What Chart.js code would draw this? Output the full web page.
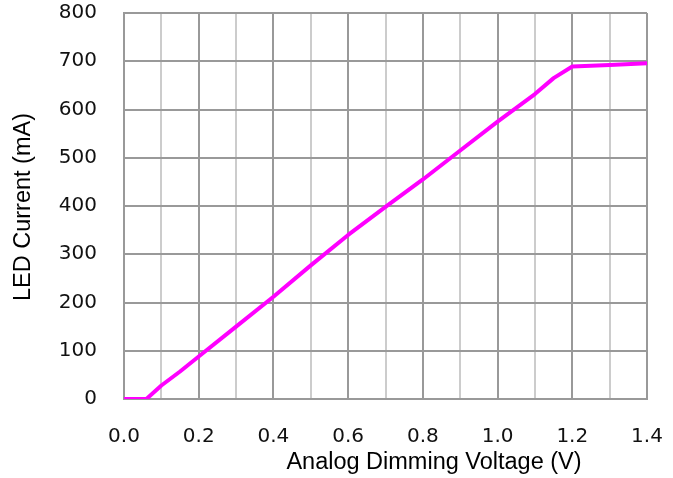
<!DOCTYPE html>
<html>
<head>
<meta charset="utf-8">
<script src="https://cdn.jsdelivr.net/npm/chart.js@4/dist/chart.umd.min.js"></script>
<style>
  body { margin: 0; background: #fff; }
  #wrap { width: 673px; height: 478px; }
</style>
</head>
<body>
<div id="wrap"><canvas id="ledChart" width="673" height="478"></canvas></div>
<script>
// valores
const voltage = [0, 0.06, 0.1, 0.15, 0.2, 0.3, 0.4, 0.5, 0.6, 0.7, 0.8, 0.9, 1.0, 1.1, 1.15, 1.2, 1.3, 1.4];
const current = [0, 0, 28, 57, 88, 150, 212, 277, 340, 398, 455, 515, 575, 632, 665, 689, 692, 696];

const xTicks = [0, 0.1, 0.2, 0.3, 0.4, 0.5, 0.6, 0.7, 0.8, 0.9, 1.0, 1.1, 1.2, 1.3, 1.4];
const xTickLabels = ['0.0', '', '0.2', '', '0.4', '', '0.6', '', '0.8', '', '1.0', '', '1.2', '', '1.4'];
const yTicks = [0, 100, 200, 300, 400, 500, 600, 700, 800];

const xTitle = 'Analog Dimming Voltage (V)';
const yTitle = 'LED Current (mA)';

const points = voltage.map((v, i) => ({ x: v, y: current[i] }));

// titulos de ejes dibujados a mano (el del eje x va desplazado a la derecha)
const axisTitles = {
    id: 'axisTitles',
    afterDraw(chart) {
        const c = chart.ctx;
        c.save();
        c.fillStyle = '#000';
        c.font = '23.5px "Liberation Sans", Arial, sans-serif';
        c.textAlign = 'center';
        c.textBaseline = 'middle';
        c.fillText(xTitle, 434, 463);
        c.translate(24, 207);
        c.rotate(-Math.PI / 2);
        c.fillText(yTitle, 0, 0);
        c.restore();
    }
};

// quitar el relleno automatico de las escalas para fijar el area
function noPadding(scale) {
    scale.paddingTop = 0;
    scale.paddingBottom = 0;
    scale.paddingLeft = 0;
    scale.paddingRight = 0;
}

const ctx = document.querySelector('#ledChart');
new Chart(ctx, {
    type: 'line',
    data: {
        datasets: [{
            data: points,
            borderColor: '#ff00ff',
            borderWidth: 4,
            pointRadius: 0,
            tension: 0,
            borderJoinStyle: 'round',
            borderCapStyle: 'round'
        }]
    },
    options: {
        responsive: false,
        animation: false,
        layout: { padding: { left: 0, top: 13, right: 26, bottom: 0 } },
        plugins: {
            legend: { display: false },
            tooltip: { enabled: false }
        },
        scales: {
            x: {
                type: 'linear',
                min: 0,
                max: 1.4,
                afterBuildTicks: (scale) => {
                    scale.ticks = xTicks.map(v => ({ value: v }));
                },
                afterFit: (scale) => { scale.height = 79; noPadding(scale); },
                ticks: {
                    autoSkip: false,
                    maxRotation: 0,
                    padding: 26,
                    color: '#111',
                    font: { family: '"DejaVu Sans", sans-serif', size: 20 },
                    callback: (value, index) => xTickLabels[index]
                },
                grid: {
                    drawTicks: false,
                    lineWidth: 2,
                    color: (c) => (c.index % 2 === 0 ? '#999999' : '#cccccc')
                },
                border: { color: '#999999', width: 2 }
            },
            y: {
                min: 0,
                max: 800,
                afterBuildTicks: (scale) => {
                    scale.ticks = yTicks.map(v => ({ value: v }));
                },
                afterFit: (scale) => { scale.width = 124; noPadding(scale); },
                ticks: {
                    padding: 27,
                    color: '#111',
                    font: { family: '"DejaVu Sans", sans-serif', size: 20 }
                },
                grid: {
                    drawTicks: false,
                    lineWidth: 2,
                    color: '#999999'
                },
                border: { color: '#999999', width: 2 }
            }
        }
    },
    plugins: [axisTitles]
});
</script>
</body>
</html>
